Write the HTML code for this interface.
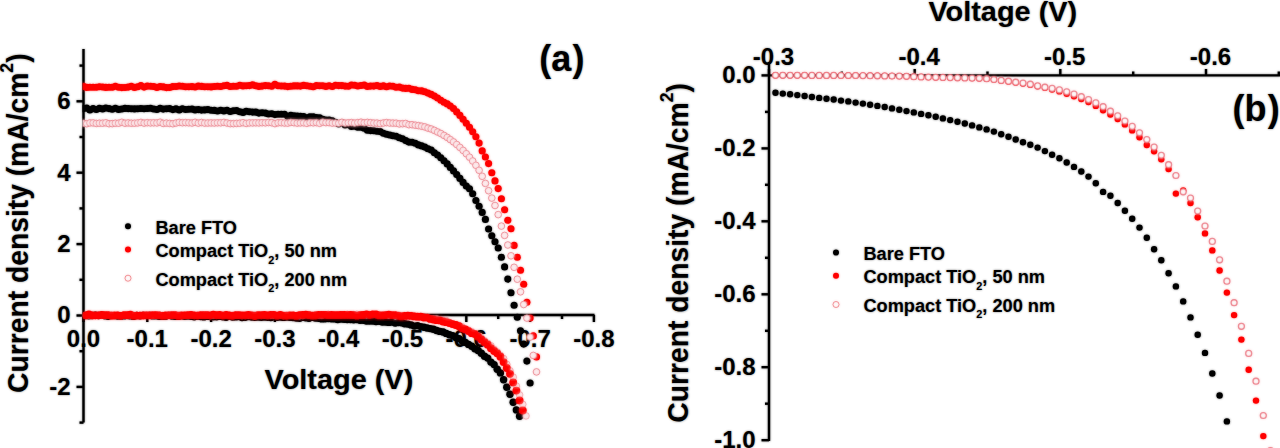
<!DOCTYPE html>
<html><head><meta charset="utf-8"><style>
html,body{margin:0;padding:0;background:#fff;width:1280px;height:448px;overflow:hidden}
svg{display:block}

</style></head><body>
<div id="w"><svg width="1280" height="448" viewBox="0 0 1280 448">
<rect width="1280" height="448" fill="#fff"/>
<defs><filter id="bl" x="0" y="0" width="1280" height="448" filterUnits="userSpaceOnUse"><feGaussianBlur stdDeviation="1"/></filter></defs>
<g id="c">
<line x1="83.5" y1="49" x2="83.5" y2="422.5" stroke="#000" stroke-width="2.4"/>
<line x1="82.5" y1="315" x2="594.5" y2="315" stroke="#000" stroke-width="2.4"/>
<line x1="76.5" y1="101.3" x2="83.5" y2="101.3" stroke="#000" stroke-width="2.4"/>
<line x1="76.5" y1="172.7" x2="83.5" y2="172.7" stroke="#000" stroke-width="2.4"/>
<line x1="76.5" y1="244.1" x2="83.5" y2="244.1" stroke="#000" stroke-width="2.4"/>
<line x1="76.5" y1="315.5" x2="83.5" y2="315.5" stroke="#000" stroke-width="2.4"/>
<line x1="76.5" y1="386.9" x2="83.5" y2="386.9" stroke="#000" stroke-width="2.4"/>
<line x1="79.5" y1="65.6" x2="83.5" y2="65.6" stroke="#000" stroke-width="2.4"/>
<line x1="79.5" y1="137.0" x2="83.5" y2="137.0" stroke="#000" stroke-width="2.4"/>
<line x1="79.5" y1="208.4" x2="83.5" y2="208.4" stroke="#000" stroke-width="2.4"/>
<line x1="79.5" y1="279.8" x2="83.5" y2="279.8" stroke="#000" stroke-width="2.4"/>
<line x1="79.5" y1="351.2" x2="83.5" y2="351.2" stroke="#000" stroke-width="2.4"/>
<line x1="79.5" y1="422.6" x2="83.5" y2="422.6" stroke="#000" stroke-width="2.4"/>
<line x1="83.5" y1="315" x2="83.5" y2="322" stroke="#000" stroke-width="2.4"/>
<line x1="147.3" y1="315" x2="147.3" y2="322" stroke="#000" stroke-width="2.4"/>
<line x1="211.1" y1="315" x2="211.1" y2="322" stroke="#000" stroke-width="2.4"/>
<line x1="274.9" y1="315" x2="274.9" y2="322" stroke="#000" stroke-width="2.4"/>
<line x1="338.7" y1="315" x2="338.7" y2="322" stroke="#000" stroke-width="2.4"/>
<line x1="402.5" y1="315" x2="402.5" y2="322" stroke="#000" stroke-width="2.4"/>
<line x1="466.3" y1="315" x2="466.3" y2="322" stroke="#000" stroke-width="2.4"/>
<line x1="530.1" y1="315" x2="530.1" y2="322" stroke="#000" stroke-width="2.4"/>
<line x1="593.9" y1="315" x2="593.9" y2="322" stroke="#000" stroke-width="2.4"/>
<line x1="115.4" y1="315" x2="115.4" y2="319" stroke="#000" stroke-width="2.4"/>
<line x1="179.2" y1="315" x2="179.2" y2="319" stroke="#000" stroke-width="2.4"/>
<line x1="243.0" y1="315" x2="243.0" y2="319" stroke="#000" stroke-width="2.4"/>
<line x1="306.8" y1="315" x2="306.8" y2="319" stroke="#000" stroke-width="2.4"/>
<line x1="370.6" y1="315" x2="370.6" y2="319" stroke="#000" stroke-width="2.4"/>
<line x1="434.4" y1="315" x2="434.4" y2="319" stroke="#000" stroke-width="2.4"/>
<line x1="498.2" y1="315" x2="498.2" y2="319" stroke="#000" stroke-width="2.4"/>
<line x1="562.0" y1="315" x2="562.0" y2="319" stroke="#000" stroke-width="2.4"/>
<text x="70.5" y="109.1" font-size="24" text-anchor="end" font-family="Liberation Sans, sans-serif" font-weight="bold">6</text>
<text x="70.5" y="180.5" font-size="24" text-anchor="end" font-family="Liberation Sans, sans-serif" font-weight="bold">4</text>
<text x="70.5" y="251.9" font-size="24" text-anchor="end" font-family="Liberation Sans, sans-serif" font-weight="bold">2</text>
<text x="70.5" y="323.3" font-size="24" text-anchor="end" font-family="Liberation Sans, sans-serif" font-weight="bold">0</text>
<text x="70.5" y="394.7" font-size="24" text-anchor="end" font-family="Liberation Sans, sans-serif" font-weight="bold">-2</text>
<text x="83.5" y="346.5" font-size="24" text-anchor="middle" font-family="Liberation Sans, sans-serif" font-weight="bold">0.0</text>
<text x="147.3" y="346.5" font-size="24" text-anchor="middle" font-family="Liberation Sans, sans-serif" font-weight="bold">-0.1</text>
<text x="211.1" y="346.5" font-size="24" text-anchor="middle" font-family="Liberation Sans, sans-serif" font-weight="bold">-0.2</text>
<text x="274.9" y="346.5" font-size="24" text-anchor="middle" font-family="Liberation Sans, sans-serif" font-weight="bold">-0.3</text>
<text x="338.7" y="346.5" font-size="24" text-anchor="middle" font-family="Liberation Sans, sans-serif" font-weight="bold">-0.4</text>
<text x="402.5" y="346.5" font-size="24" text-anchor="middle" font-family="Liberation Sans, sans-serif" font-weight="bold">-0.5</text>
<text x="466.3" y="346.5" font-size="24" text-anchor="middle" font-family="Liberation Sans, sans-serif" font-weight="bold">-0.6</text>
<text x="530.1" y="346.5" font-size="24" text-anchor="middle" font-family="Liberation Sans, sans-serif" font-weight="bold">-0.7</text>
<text x="593.9" y="346.5" font-size="24" text-anchor="middle" font-family="Liberation Sans, sans-serif" font-weight="bold">-0.8</text>
<text transform="translate(338.9,389.1) scale(1.032,1)" font-size="28" text-anchor="middle" font-family="Liberation Sans, sans-serif" font-weight="bold">Voltage (V)</text>
<text transform="translate(28.3,223.2) scale(1.06,1.01) rotate(-90)" font-size="28" text-anchor="middle" font-family="Liberation Sans, sans-serif" font-weight="bold">Current density (mA/cm<tspan font-size="17.5" dy="-14.5">2</tspan><tspan dy="14.5">)</tspan></text>
<text x="539.3" y="70.5" font-size="36" font-family="Liberation Sans, sans-serif" font-weight="bold">(a<tspan dx="1.2">)</tspan></text>
<circle cx="128" cy="226.3" r="3" fill="#000"/>
<circle cx="128" cy="249.5" r="3" fill="#f00"/>
<circle cx="128" cy="278.2" r="3" fill="#fff" stroke="#e8303a" stroke-width="1" stroke-opacity="0.6"/>
<g transform="translate(156,0) scale(1.04,1)">
<text x="-0.6" y="233.8" font-size="17.5" font-family="Liberation Sans, sans-serif" font-weight="bold">Bare FTO</text>
<text x="-0.6" y="257.2" font-size="17.5" font-family="Liberation Sans, sans-serif" font-weight="bold">Compact TiO<tspan font-size="10.5" dy="6.5">2</tspan><tspan dy="-6.5">, 50 nm</tspan></text>
<text x="-0.6" y="285.6" font-size="17.5" font-family="Liberation Sans, sans-serif" font-weight="bold">Compact TiO<tspan font-size="10.5" dy="6.5">2</tspan><tspan dy="-6.5">, 200 nm</tspan></text>
</g>
<line x1="769" y1="62" x2="769" y2="441" stroke="#000" stroke-width="2.4"/>
<line x1="768" y1="75.4" x2="1280" y2="75.4" stroke="#000" stroke-width="2.4"/>
<line x1="761.5" y1="75.4" x2="769" y2="75.4" stroke="#000" stroke-width="2.4"/>
<line x1="761.5" y1="148.4" x2="769" y2="148.4" stroke="#000" stroke-width="2.4"/>
<line x1="761.5" y1="221.3" x2="769" y2="221.3" stroke="#000" stroke-width="2.4"/>
<line x1="761.5" y1="294.3" x2="769" y2="294.3" stroke="#000" stroke-width="2.4"/>
<line x1="761.5" y1="367.2" x2="769" y2="367.2" stroke="#000" stroke-width="2.4"/>
<line x1="761.5" y1="440.2" x2="769" y2="440.2" stroke="#000" stroke-width="2.4"/>
<line x1="765" y1="111.9" x2="769" y2="111.9" stroke="#000" stroke-width="2.4"/>
<line x1="765" y1="184.8" x2="769" y2="184.8" stroke="#000" stroke-width="2.4"/>
<line x1="765" y1="257.8" x2="769" y2="257.8" stroke="#000" stroke-width="2.4"/>
<line x1="765" y1="330.8" x2="769" y2="330.8" stroke="#000" stroke-width="2.4"/>
<line x1="765" y1="403.7" x2="769" y2="403.7" stroke="#000" stroke-width="2.4"/>
<line x1="769.0" y1="69" x2="769.0" y2="75.4" stroke="#000" stroke-width="2.4"/>
<line x1="914.7" y1="69" x2="914.7" y2="75.4" stroke="#000" stroke-width="2.4"/>
<line x1="1060.3" y1="69" x2="1060.3" y2="75.4" stroke="#000" stroke-width="2.4"/>
<line x1="1206.0" y1="69" x2="1206.0" y2="75.4" stroke="#000" stroke-width="2.4"/>
<line x1="841.8" y1="71.5" x2="841.8" y2="75.4" stroke="#000" stroke-width="2.4"/>
<line x1="987.5" y1="71.5" x2="987.5" y2="75.4" stroke="#000" stroke-width="2.4"/>
<line x1="1133.2" y1="71.5" x2="1133.2" y2="75.4" stroke="#000" stroke-width="2.4"/>
<line x1="1278.8" y1="71.5" x2="1278.8" y2="75.4" stroke="#000" stroke-width="2.4"/>
<text x="755.5" y="83.2" font-size="24" text-anchor="end" font-family="Liberation Sans, sans-serif" font-weight="bold">0.0</text>
<text x="755.5" y="156.2" font-size="24" text-anchor="end" font-family="Liberation Sans, sans-serif" font-weight="bold">-0.2</text>
<text x="755.5" y="229.1" font-size="24" text-anchor="end" font-family="Liberation Sans, sans-serif" font-weight="bold">-0.4</text>
<text x="755.5" y="302.1" font-size="24" text-anchor="end" font-family="Liberation Sans, sans-serif" font-weight="bold">-0.6</text>
<text x="755.5" y="375.0" font-size="24" text-anchor="end" font-family="Liberation Sans, sans-serif" font-weight="bold">-0.8</text>
<text x="755.5" y="448.0" font-size="24" text-anchor="end" font-family="Liberation Sans, sans-serif" font-weight="bold">-1.0</text>
<text x="773.5" y="65.4" font-size="24" text-anchor="middle" font-family="Liberation Sans, sans-serif" font-weight="bold">-0.3</text>
<text x="919.2" y="65.4" font-size="24" text-anchor="middle" font-family="Liberation Sans, sans-serif" font-weight="bold">-0.4</text>
<text x="1064.8" y="65.4" font-size="24" text-anchor="middle" font-family="Liberation Sans, sans-serif" font-weight="bold">-0.5</text>
<text x="1210.5" y="65.4" font-size="24" text-anchor="middle" font-family="Liberation Sans, sans-serif" font-weight="bold">-0.6</text>
<text transform="translate(1002.8,21.0) scale(1.032,1)" font-size="28" text-anchor="middle" font-family="Liberation Sans, sans-serif" font-weight="bold">Voltage (V)</text>
<text transform="translate(688.3,252.9) scale(1.06,1.01) rotate(-90)" font-size="28" text-anchor="middle" font-family="Liberation Sans, sans-serif" font-weight="bold">Current density (mA/cm<tspan font-size="17.5" dy="-14.5">2</tspan><tspan dy="14.5">)</tspan></text>
<text x="1232.5" y="120.5" font-size="36" font-family="Liberation Sans, sans-serif" font-weight="bold">(b<tspan dx="1.2">)</tspan></text>
<circle cx="836" cy="252.60000000000002" r="3" fill="#000"/>
<circle cx="836" cy="275.8" r="3" fill="#f00"/>
<circle cx="836" cy="304.5" r="3" fill="#fff" stroke="#e8303a" stroke-width="1" stroke-opacity="0.6"/>
<g transform="translate(864,0) scale(1.04,1)">
<text x="-0.6" y="260.1" font-size="17.5" font-family="Liberation Sans, sans-serif" font-weight="bold">Bare FTO</text>
<text x="-0.6" y="283.5" font-size="17.5" font-family="Liberation Sans, sans-serif" font-weight="bold">Compact TiO<tspan font-size="10.5" dy="6.5">2</tspan><tspan dy="-6.5">, 50 nm</tspan></text>
<text x="-0.6" y="311.90000000000003" font-size="17.5" font-family="Liberation Sans, sans-serif" font-weight="bold">Compact TiO<tspan font-size="10.5" dy="6.5">2</tspan><tspan dy="-6.5">, 200 nm</tspan></text>
</g>
<clipPath id="cl"><rect x="82.6" y="0" width="600" height="448"/></clipPath><g clip-path="url(#cl)">
<g fill="#000"><circle cx="85.7" cy="315.5" r="3.7"/><circle cx="88.9" cy="315.7" r="3.7"/><circle cx="92.1" cy="315.5" r="3.7"/><circle cx="95.3" cy="315.3" r="3.7"/><circle cx="98.5" cy="315.5" r="3.7"/><circle cx="101.7" cy="315.3" r="3.7"/><circle cx="104.9" cy="315.7" r="3.7"/><circle cx="108.1" cy="316.2" r="3.7"/><circle cx="111.3" cy="315.6" r="3.7"/><circle cx="114.4" cy="315.6" r="3.7"/><circle cx="117.6" cy="316.0" r="3.7"/><circle cx="120.8" cy="316.0" r="3.7"/><circle cx="124.0" cy="315.9" r="3.7"/><circle cx="127.2" cy="315.6" r="3.7"/><circle cx="130.4" cy="315.9" r="3.7"/><circle cx="133.6" cy="316.2" r="3.7"/><circle cx="136.8" cy="315.5" r="3.7"/><circle cx="140.0" cy="315.8" r="3.7"/><circle cx="143.2" cy="315.4" r="3.7"/><circle cx="146.3" cy="315.6" r="3.7"/><circle cx="149.5" cy="315.4" r="3.7"/><circle cx="152.7" cy="316.0" r="3.7"/><circle cx="155.9" cy="315.7" r="3.7"/><circle cx="159.1" cy="316.3" r="3.7"/><circle cx="162.3" cy="316.2" r="3.7"/><circle cx="165.5" cy="316.2" r="3.7"/><circle cx="168.7" cy="315.4" r="3.7"/><circle cx="171.9" cy="316.1" r="3.7"/><circle cx="175.1" cy="316.3" r="3.7"/><circle cx="178.2" cy="316.4" r="3.7"/><circle cx="181.4" cy="315.8" r="3.7"/><circle cx="184.6" cy="316.2" r="3.7"/><circle cx="187.8" cy="316.1" r="3.7"/><circle cx="191.0" cy="316.2" r="3.7"/><circle cx="194.2" cy="316.8" r="3.7"/><circle cx="197.4" cy="316.2" r="3.7"/><circle cx="200.6" cy="316.5" r="3.7"/><circle cx="203.8" cy="316.9" r="3.7"/><circle cx="207.0" cy="316.4" r="3.7"/><circle cx="210.1" cy="316.6" r="3.7"/><circle cx="213.3" cy="316.7" r="3.7"/><circle cx="216.5" cy="316.7" r="3.7"/><circle cx="219.7" cy="316.3" r="3.7"/><circle cx="222.9" cy="316.8" r="3.7"/><circle cx="226.1" cy="317.2" r="3.7"/><circle cx="229.3" cy="316.2" r="3.7"/><circle cx="232.5" cy="317.1" r="3.7"/><circle cx="235.7" cy="316.9" r="3.7"/><circle cx="238.9" cy="316.6" r="3.7"/><circle cx="242.0" cy="317.6" r="3.7"/><circle cx="245.2" cy="317.2" r="3.7"/><circle cx="248.4" cy="316.5" r="3.7"/><circle cx="251.6" cy="317.0" r="3.7"/><circle cx="254.8" cy="317.2" r="3.7"/><circle cx="258.0" cy="317.0" r="3.7"/><circle cx="261.2" cy="317.3" r="3.7"/><circle cx="264.4" cy="317.1" r="3.7"/><circle cx="267.6" cy="317.3" r="3.7"/><circle cx="270.8" cy="317.6" r="3.7"/><circle cx="273.9" cy="316.9" r="3.7"/><circle cx="277.1" cy="317.3" r="3.7"/><circle cx="280.3" cy="317.1" r="3.7"/><circle cx="283.5" cy="317.4" r="3.7"/><circle cx="286.7" cy="317.0" r="3.7"/><circle cx="289.9" cy="317.3" r="3.7"/><circle cx="293.1" cy="317.5" r="3.7"/><circle cx="296.3" cy="318.0" r="3.7"/><circle cx="299.5" cy="318.2" r="3.7"/><circle cx="302.7" cy="317.4" r="3.7"/><circle cx="305.8" cy="317.7" r="3.7"/><circle cx="309.0" cy="318.3" r="3.7"/><circle cx="312.2" cy="317.4" r="3.7"/><circle cx="315.4" cy="318.1" r="3.7"/><circle cx="318.6" cy="318.3" r="3.7"/><circle cx="321.8" cy="318.9" r="3.7"/><circle cx="325.0" cy="318.8" r="3.7"/><circle cx="328.2" cy="318.6" r="3.7"/><circle cx="331.4" cy="318.7" r="3.7"/><circle cx="334.6" cy="318.9" r="3.7"/><circle cx="337.7" cy="319.6" r="3.7"/><circle cx="340.9" cy="319.1" r="3.7"/><circle cx="344.1" cy="319.3" r="3.7"/><circle cx="347.3" cy="319.6" r="3.7"/><circle cx="350.5" cy="319.6" r="3.7"/><circle cx="353.7" cy="319.8" r="3.7"/><circle cx="356.9" cy="319.6" r="3.7"/><circle cx="360.1" cy="320.2" r="3.7"/><circle cx="363.3" cy="320.2" r="3.7"/><circle cx="366.5" cy="321.0" r="3.7"/><circle cx="369.6" cy="321.0" r="3.7"/><circle cx="372.8" cy="321.0" r="3.7"/><circle cx="376.0" cy="321.5" r="3.7"/><circle cx="379.2" cy="321.3" r="3.7"/><circle cx="382.4" cy="322.1" r="3.7"/><circle cx="385.6" cy="322.0" r="3.7"/><circle cx="388.8" cy="322.4" r="3.7"/><circle cx="392.0" cy="322.1" r="3.7"/><circle cx="395.2" cy="323.0" r="3.7"/><circle cx="398.4" cy="322.6" r="3.7"/><circle cx="401.5" cy="322.8" r="3.7"/><circle cx="404.7" cy="323.8" r="3.7"/><circle cx="407.9" cy="324.1" r="3.7"/><circle cx="411.1" cy="324.9" r="3.7"/><circle cx="414.3" cy="326.1" r="3.7"/><circle cx="417.5" cy="325.6" r="3.7"/><circle cx="420.7" cy="326.6" r="3.7"/><circle cx="423.9" cy="327.3" r="3.7"/><circle cx="427.1" cy="328.0" r="3.7"/><circle cx="430.3" cy="328.6" r="3.7"/><circle cx="433.4" cy="329.3" r="3.7"/><circle cx="436.6" cy="330.5" r="3.7"/><circle cx="439.8" cy="331.4" r="3.7"/><circle cx="443.0" cy="332.0" r="3.7"/><circle cx="446.2" cy="333.4" r="3.7"/><circle cx="449.4" cy="334.7" r="3.7"/><circle cx="452.6" cy="335.6" r="3.7"/><circle cx="455.8" cy="337.5" r="3.7"/><circle cx="459.0" cy="338.6" r="3.7"/><circle cx="462.2" cy="340.9" r="3.7"/><circle cx="465.3" cy="342.4" r="3.7"/><circle cx="468.5" cy="344.4" r="3.7"/><circle cx="471.7" cy="346.2" r="3.7"/><circle cx="474.9" cy="348.8" r="3.7"/><circle cx="478.1" cy="350.5" r="3.7"/><circle cx="481.3" cy="353.2" r="3.7"/><circle cx="484.5" cy="356.2" r="3.7"/><circle cx="487.7" cy="358.1" r="3.7"/><circle cx="490.9" cy="362.1" r="3.7"/><circle cx="494.1" cy="364.6" r="3.7"/><circle cx="497.2" cy="369.2" r="3.7"/><circle cx="500.4" cy="372.9" r="3.7"/><circle cx="503.6" cy="379.8" r="3.7"/><circle cx="506.8" cy="387.3" r="3.7"/><circle cx="510.0" cy="394.2" r="3.7"/><circle cx="513.2" cy="402.2" r="3.7"/><circle cx="516.4" cy="409.9" r="3.7"/><circle cx="519.6" cy="416.3" r="3.7"/></g>
<g fill="#fde9eb" stroke="#e8707c" stroke-width="1.0" stroke-opacity="0.5"><circle cx="85.7" cy="315.2" r="3.3"/><circle cx="88.9" cy="315.2" r="3.3"/><circle cx="92.1" cy="315.0" r="3.3"/><circle cx="95.3" cy="315.7" r="3.3"/><circle cx="98.5" cy="315.1" r="3.3"/><circle cx="101.7" cy="315.3" r="3.3"/><circle cx="104.9" cy="315.0" r="3.3"/><circle cx="108.1" cy="315.1" r="3.3"/><circle cx="111.3" cy="314.9" r="3.3"/><circle cx="114.4" cy="315.7" r="3.3"/><circle cx="117.6" cy="315.2" r="3.3"/><circle cx="120.8" cy="315.6" r="3.3"/><circle cx="124.0" cy="315.3" r="3.3"/><circle cx="127.2" cy="315.1" r="3.3"/><circle cx="130.4" cy="315.2" r="3.3"/><circle cx="133.6" cy="315.1" r="3.3"/><circle cx="136.8" cy="315.3" r="3.3"/><circle cx="140.0" cy="315.2" r="3.3"/><circle cx="143.2" cy="315.2" r="3.3"/><circle cx="146.3" cy="314.8" r="3.3"/><circle cx="149.5" cy="315.0" r="3.3"/><circle cx="152.7" cy="315.9" r="3.3"/><circle cx="155.9" cy="315.1" r="3.3"/><circle cx="159.1" cy="314.9" r="3.3"/><circle cx="162.3" cy="315.4" r="3.3"/><circle cx="165.5" cy="315.8" r="3.3"/><circle cx="168.7" cy="314.8" r="3.3"/><circle cx="171.9" cy="315.2" r="3.3"/><circle cx="175.1" cy="315.1" r="3.3"/><circle cx="178.2" cy="314.7" r="3.3"/><circle cx="181.4" cy="315.6" r="3.3"/><circle cx="184.6" cy="315.3" r="3.3"/><circle cx="187.8" cy="315.3" r="3.3"/><circle cx="191.0" cy="315.0" r="3.3"/><circle cx="194.2" cy="315.5" r="3.3"/><circle cx="197.4" cy="315.1" r="3.3"/><circle cx="200.6" cy="315.2" r="3.3"/><circle cx="203.8" cy="314.9" r="3.3"/><circle cx="207.0" cy="314.9" r="3.3"/><circle cx="210.1" cy="315.8" r="3.3"/><circle cx="213.3" cy="315.1" r="3.3"/><circle cx="216.5" cy="315.4" r="3.3"/><circle cx="219.7" cy="315.3" r="3.3"/><circle cx="222.9" cy="315.1" r="3.3"/><circle cx="226.1" cy="315.1" r="3.3"/><circle cx="229.3" cy="315.5" r="3.3"/><circle cx="232.5" cy="315.2" r="3.3"/><circle cx="235.7" cy="315.2" r="3.3"/><circle cx="238.9" cy="315.3" r="3.3"/><circle cx="242.0" cy="315.7" r="3.3"/><circle cx="245.2" cy="315.5" r="3.3"/><circle cx="248.4" cy="315.4" r="3.3"/><circle cx="251.6" cy="315.1" r="3.3"/><circle cx="254.8" cy="314.8" r="3.3"/><circle cx="258.0" cy="315.6" r="3.3"/><circle cx="261.2" cy="315.6" r="3.3"/><circle cx="264.4" cy="315.2" r="3.3"/><circle cx="267.6" cy="315.4" r="3.3"/><circle cx="270.8" cy="315.5" r="3.3"/><circle cx="273.9" cy="315.5" r="3.3"/><circle cx="277.1" cy="315.6" r="3.3"/><circle cx="280.3" cy="315.1" r="3.3"/><circle cx="283.5" cy="315.8" r="3.3"/><circle cx="286.7" cy="314.8" r="3.3"/><circle cx="289.9" cy="315.5" r="3.3"/><circle cx="293.1" cy="315.4" r="3.3"/><circle cx="296.3" cy="315.5" r="3.3"/><circle cx="299.5" cy="315.9" r="3.3"/><circle cx="302.7" cy="315.7" r="3.3"/><circle cx="305.8" cy="314.8" r="3.3"/><circle cx="309.0" cy="314.6" r="3.3"/><circle cx="312.2" cy="315.5" r="3.3"/><circle cx="315.4" cy="314.8" r="3.3"/><circle cx="318.6" cy="315.2" r="3.3"/><circle cx="321.8" cy="315.4" r="3.3"/><circle cx="325.0" cy="314.6" r="3.3"/><circle cx="328.2" cy="314.4" r="3.3"/><circle cx="331.4" cy="315.2" r="3.3"/><circle cx="334.6" cy="315.1" r="3.3"/><circle cx="337.7" cy="315.0" r="3.3"/><circle cx="340.9" cy="315.1" r="3.3"/><circle cx="344.1" cy="314.8" r="3.3"/><circle cx="347.3" cy="314.5" r="3.3"/><circle cx="350.5" cy="315.0" r="3.3"/><circle cx="353.7" cy="314.7" r="3.3"/><circle cx="356.9" cy="314.4" r="3.3"/><circle cx="360.1" cy="315.2" r="3.3"/><circle cx="363.3" cy="315.0" r="3.3"/><circle cx="366.5" cy="315.1" r="3.3"/><circle cx="369.6" cy="314.7" r="3.3"/><circle cx="372.8" cy="314.8" r="3.3"/><circle cx="376.0" cy="314.7" r="3.3"/><circle cx="379.2" cy="314.7" r="3.3"/><circle cx="382.4" cy="315.2" r="3.3"/><circle cx="385.6" cy="314.9" r="3.3"/><circle cx="388.8" cy="315.3" r="3.3"/><circle cx="392.0" cy="315.4" r="3.3"/><circle cx="395.2" cy="316.1" r="3.3"/><circle cx="398.4" cy="315.0" r="3.3"/><circle cx="401.5" cy="315.9" r="3.3"/><circle cx="404.7" cy="315.7" r="3.3"/><circle cx="407.9" cy="315.9" r="3.3"/><circle cx="411.1" cy="315.6" r="3.3"/><circle cx="414.3" cy="316.2" r="3.3"/><circle cx="417.5" cy="316.8" r="3.3"/><circle cx="420.7" cy="316.9" r="3.3"/><circle cx="423.9" cy="317.3" r="3.3"/><circle cx="427.1" cy="317.6" r="3.3"/><circle cx="430.3" cy="318.6" r="3.3"/><circle cx="433.4" cy="318.8" r="3.3"/><circle cx="436.6" cy="318.7" r="3.3"/><circle cx="439.8" cy="319.9" r="3.3"/><circle cx="443.0" cy="320.2" r="3.3"/><circle cx="446.2" cy="320.6" r="3.3"/><circle cx="449.4" cy="322.5" r="3.3"/><circle cx="452.6" cy="324.1" r="3.3"/><circle cx="455.8" cy="324.8" r="3.3"/><circle cx="459.0" cy="325.5" r="3.3"/><circle cx="462.2" cy="326.9" r="3.3"/><circle cx="465.3" cy="329.0" r="3.3"/><circle cx="468.5" cy="330.2" r="3.3"/><circle cx="471.7" cy="331.8" r="3.3"/><circle cx="474.9" cy="333.6" r="3.3"/><circle cx="478.1" cy="335.7" r="3.3"/><circle cx="481.3" cy="338.3" r="3.3"/><circle cx="484.5" cy="340.8" r="3.3"/><circle cx="487.7" cy="343.3" r="3.3"/><circle cx="490.9" cy="345.8" r="3.3"/><circle cx="494.1" cy="349.4" r="3.3"/><circle cx="497.2" cy="352.0" r="3.3"/><circle cx="500.4" cy="355.4" r="3.3"/><circle cx="503.6" cy="358.5" r="3.3"/><circle cx="506.8" cy="364.3" r="3.3"/><circle cx="510.0" cy="370.7" r="3.3"/><circle cx="513.2" cy="377.1" r="3.3"/><circle cx="516.4" cy="386.1" r="3.3"/><circle cx="519.6" cy="394.9" r="3.3"/><circle cx="522.8" cy="404.3" r="3.3"/><circle cx="526.0" cy="415.9" r="3.3"/></g>
<g fill="#f00"><circle cx="85.7" cy="315.4" r="3.9"/><circle cx="88.9" cy="314.4" r="3.9"/><circle cx="92.1" cy="315.4" r="3.9"/><circle cx="95.3" cy="315.3" r="3.9"/><circle cx="98.5" cy="315.3" r="3.9"/><circle cx="101.7" cy="314.9" r="3.9"/><circle cx="104.9" cy="315.2" r="3.9"/><circle cx="108.1" cy="315.2" r="3.9"/><circle cx="111.3" cy="315.7" r="3.9"/><circle cx="114.4" cy="315.4" r="3.9"/><circle cx="117.6" cy="315.3" r="3.9"/><circle cx="120.8" cy="315.8" r="3.9"/><circle cx="124.0" cy="315.1" r="3.9"/><circle cx="127.2" cy="315.2" r="3.9"/><circle cx="130.4" cy="314.7" r="3.9"/><circle cx="133.6" cy="315.8" r="3.9"/><circle cx="136.8" cy="315.6" r="3.9"/><circle cx="140.0" cy="315.6" r="3.9"/><circle cx="143.2" cy="315.5" r="3.9"/><circle cx="146.3" cy="315.3" r="3.9"/><circle cx="149.5" cy="315.4" r="3.9"/><circle cx="152.7" cy="315.2" r="3.9"/><circle cx="155.9" cy="315.2" r="3.9"/><circle cx="159.1" cy="315.3" r="3.9"/><circle cx="162.3" cy="315.8" r="3.9"/><circle cx="165.5" cy="315.5" r="3.9"/><circle cx="168.7" cy="315.3" r="3.9"/><circle cx="171.9" cy="315.1" r="3.9"/><circle cx="175.1" cy="315.1" r="3.9"/><circle cx="178.2" cy="315.9" r="3.9"/><circle cx="181.4" cy="315.5" r="3.9"/><circle cx="184.6" cy="315.3" r="3.9"/><circle cx="187.8" cy="315.2" r="3.9"/><circle cx="191.0" cy="314.9" r="3.9"/><circle cx="194.2" cy="315.3" r="3.9"/><circle cx="197.4" cy="315.6" r="3.9"/><circle cx="200.6" cy="315.2" r="3.9"/><circle cx="203.8" cy="315.2" r="3.9"/><circle cx="207.0" cy="315.2" r="3.9"/><circle cx="210.1" cy="315.3" r="3.9"/><circle cx="213.3" cy="314.7" r="3.9"/><circle cx="216.5" cy="315.2" r="3.9"/><circle cx="219.7" cy="315.0" r="3.9"/><circle cx="222.9" cy="315.6" r="3.9"/><circle cx="226.1" cy="315.0" r="3.9"/><circle cx="229.3" cy="315.5" r="3.9"/><circle cx="232.5" cy="315.8" r="3.9"/><circle cx="235.7" cy="315.2" r="3.9"/><circle cx="238.9" cy="315.1" r="3.9"/><circle cx="242.0" cy="315.3" r="3.9"/><circle cx="245.2" cy="315.3" r="3.9"/><circle cx="248.4" cy="314.9" r="3.9"/><circle cx="251.6" cy="315.4" r="3.9"/><circle cx="254.8" cy="316.0" r="3.9"/><circle cx="258.0" cy="315.2" r="3.9"/><circle cx="261.2" cy="315.2" r="3.9"/><circle cx="264.4" cy="314.9" r="3.9"/><circle cx="267.6" cy="315.4" r="3.9"/><circle cx="270.8" cy="314.8" r="3.9"/><circle cx="273.9" cy="314.9" r="3.9"/><circle cx="277.1" cy="315.7" r="3.9"/><circle cx="280.3" cy="314.9" r="3.9"/><circle cx="283.5" cy="315.6" r="3.9"/><circle cx="286.7" cy="315.8" r="3.9"/><circle cx="289.9" cy="315.3" r="3.9"/><circle cx="293.1" cy="315.4" r="3.9"/><circle cx="296.3" cy="315.9" r="3.9"/><circle cx="299.5" cy="315.1" r="3.9"/><circle cx="302.7" cy="315.0" r="3.9"/><circle cx="305.8" cy="314.7" r="3.9"/><circle cx="309.0" cy="315.2" r="3.9"/><circle cx="312.2" cy="315.7" r="3.9"/><circle cx="315.4" cy="315.5" r="3.9"/><circle cx="318.6" cy="314.8" r="3.9"/><circle cx="321.8" cy="314.8" r="3.9"/><circle cx="325.0" cy="314.9" r="3.9"/><circle cx="328.2" cy="315.2" r="3.9"/><circle cx="331.4" cy="315.0" r="3.9"/><circle cx="334.6" cy="315.2" r="3.9"/><circle cx="337.7" cy="315.2" r="3.9"/><circle cx="340.9" cy="315.0" r="3.9"/><circle cx="344.1" cy="315.0" r="3.9"/><circle cx="347.3" cy="315.1" r="3.9"/><circle cx="350.5" cy="315.0" r="3.9"/><circle cx="353.7" cy="315.2" r="3.9"/><circle cx="356.9" cy="315.7" r="3.9"/><circle cx="360.1" cy="315.2" r="3.9"/><circle cx="363.3" cy="315.0" r="3.9"/><circle cx="366.5" cy="314.4" r="3.9"/><circle cx="369.6" cy="315.1" r="3.9"/><circle cx="372.8" cy="314.3" r="3.9"/><circle cx="376.0" cy="314.5" r="3.9"/><circle cx="379.2" cy="315.4" r="3.9"/><circle cx="382.4" cy="315.4" r="3.9"/><circle cx="385.6" cy="315.1" r="3.9"/><circle cx="388.8" cy="314.7" r="3.9"/><circle cx="392.0" cy="315.2" r="3.9"/><circle cx="395.2" cy="315.2" r="3.9"/><circle cx="398.4" cy="315.8" r="3.9"/><circle cx="401.5" cy="316.4" r="3.9"/><circle cx="404.7" cy="315.9" r="3.9"/><circle cx="407.9" cy="315.7" r="3.9"/><circle cx="411.1" cy="315.8" r="3.9"/><circle cx="414.3" cy="316.4" r="3.9"/><circle cx="417.5" cy="316.7" r="3.9"/><circle cx="420.7" cy="316.7" r="3.9"/><circle cx="423.9" cy="317.5" r="3.9"/><circle cx="427.1" cy="317.6" r="3.9"/><circle cx="430.3" cy="318.9" r="3.9"/><circle cx="433.4" cy="319.5" r="3.9"/><circle cx="436.6" cy="320.2" r="3.9"/><circle cx="439.8" cy="320.4" r="3.9"/><circle cx="443.0" cy="321.5" r="3.9"/><circle cx="446.2" cy="322.2" r="3.9"/><circle cx="449.4" cy="323.1" r="3.9"/><circle cx="452.6" cy="324.1" r="3.9"/><circle cx="455.8" cy="325.0" r="3.9"/><circle cx="459.0" cy="326.2" r="3.9"/><circle cx="462.2" cy="328.3" r="3.9"/><circle cx="465.3" cy="329.4" r="3.9"/><circle cx="468.5" cy="331.1" r="3.9"/><circle cx="471.7" cy="333.2" r="3.9"/><circle cx="474.9" cy="334.1" r="3.9"/><circle cx="478.1" cy="336.7" r="3.9"/><circle cx="481.3" cy="339.5" r="3.9"/><circle cx="484.5" cy="342.2" r="3.9"/><circle cx="487.7" cy="344.7" r="3.9"/><circle cx="490.9" cy="348.2" r="3.9"/><circle cx="494.1" cy="351.0" r="3.9"/><circle cx="497.2" cy="353.3" r="3.9"/><circle cx="500.4" cy="356.7" r="3.9"/><circle cx="503.6" cy="362.1" r="3.9"/><circle cx="506.8" cy="368.0" r="3.9"/><circle cx="510.0" cy="373.8" r="3.9"/><circle cx="513.2" cy="382.4" r="3.9"/><circle cx="516.4" cy="390.6" r="3.9"/><circle cx="519.6" cy="400.4" r="3.9"/><circle cx="522.8" cy="410.5" r="3.9"/></g>
<g fill="#000"><circle cx="83.5" cy="108.6" r="3.55"/><circle cx="86.7" cy="108.1" r="3.55"/><circle cx="89.9" cy="110.0" r="3.55"/><circle cx="93.1" cy="108.6" r="3.55"/><circle cx="96.3" cy="109.5" r="3.55"/><circle cx="99.4" cy="108.4" r="3.55"/><circle cx="102.6" cy="108.9" r="3.55"/><circle cx="105.8" cy="108.0" r="3.55"/><circle cx="109.0" cy="108.6" r="3.55"/><circle cx="112.2" cy="109.3" r="3.55"/><circle cx="115.4" cy="108.2" r="3.55"/><circle cx="118.6" cy="109.4" r="3.55"/><circle cx="121.8" cy="109.0" r="3.55"/><circle cx="125.0" cy="108.4" r="3.55"/><circle cx="128.2" cy="108.6" r="3.55"/><circle cx="131.3" cy="108.7" r="3.55"/><circle cx="134.5" cy="108.9" r="3.55"/><circle cx="137.7" cy="108.7" r="3.55"/><circle cx="140.9" cy="108.5" r="3.55"/><circle cx="144.1" cy="108.8" r="3.55"/><circle cx="147.3" cy="108.5" r="3.55"/><circle cx="150.5" cy="108.3" r="3.55"/><circle cx="153.7" cy="109.0" r="3.55"/><circle cx="156.9" cy="109.5" r="3.55"/><circle cx="160.1" cy="108.3" r="3.55"/><circle cx="163.2" cy="109.1" r="3.55"/><circle cx="166.4" cy="108.8" r="3.55"/><circle cx="169.6" cy="108.6" r="3.55"/><circle cx="172.8" cy="109.6" r="3.55"/><circle cx="176.0" cy="108.9" r="3.55"/><circle cx="179.2" cy="109.9" r="3.55"/><circle cx="182.4" cy="108.8" r="3.55"/><circle cx="185.6" cy="109.5" r="3.55"/><circle cx="188.8" cy="109.2" r="3.55"/><circle cx="192.0" cy="109.1" r="3.55"/><circle cx="195.1" cy="109.9" r="3.55"/><circle cx="198.3" cy="109.6" r="3.55"/><circle cx="201.5" cy="110.1" r="3.55"/><circle cx="204.7" cy="109.9" r="3.55"/><circle cx="207.9" cy="109.6" r="3.55"/><circle cx="211.1" cy="110.2" r="3.55"/><circle cx="214.3" cy="110.4" r="3.55"/><circle cx="217.5" cy="111.0" r="3.55"/><circle cx="220.7" cy="110.3" r="3.55"/><circle cx="223.9" cy="110.9" r="3.55"/><circle cx="227.0" cy="110.2" r="3.55"/><circle cx="230.2" cy="111.5" r="3.55"/><circle cx="233.4" cy="110.8" r="3.55"/><circle cx="236.6" cy="110.6" r="3.55"/><circle cx="239.8" cy="111.7" r="3.55"/><circle cx="243.0" cy="112.4" r="3.55"/><circle cx="246.2" cy="111.3" r="3.55"/><circle cx="249.4" cy="111.7" r="3.55"/><circle cx="252.6" cy="112.1" r="3.55"/><circle cx="255.8" cy="112.1" r="3.55"/><circle cx="258.9" cy="113.1" r="3.55"/><circle cx="262.1" cy="112.8" r="3.55"/><circle cx="265.3" cy="113.1" r="3.55"/><circle cx="268.5" cy="114.0" r="3.55"/><circle cx="271.7" cy="113.7" r="3.55"/><circle cx="274.9" cy="114.6" r="3.55"/><circle cx="278.1" cy="114.2" r="3.55"/><circle cx="281.3" cy="114.3" r="3.55"/><circle cx="284.5" cy="114.2" r="3.55"/><circle cx="287.7" cy="116.3" r="3.55"/><circle cx="290.8" cy="115.4" r="3.55"/><circle cx="294.0" cy="115.9" r="3.55"/><circle cx="297.2" cy="116.0" r="3.55"/><circle cx="300.4" cy="116.4" r="3.55"/><circle cx="303.6" cy="116.6" r="3.55"/><circle cx="306.8" cy="117.9" r="3.55"/><circle cx="310.0" cy="116.7" r="3.55"/><circle cx="313.2" cy="116.8" r="3.55"/><circle cx="316.4" cy="117.5" r="3.55"/><circle cx="319.6" cy="117.8" r="3.55"/><circle cx="322.7" cy="119.4" r="3.55"/><circle cx="325.9" cy="120.1" r="3.55"/><circle cx="329.1" cy="120.1" r="3.55"/><circle cx="332.3" cy="120.8" r="3.55"/><circle cx="335.5" cy="122.2" r="3.55"/><circle cx="338.7" cy="123.9" r="3.55"/><circle cx="341.9" cy="122.5" r="3.55"/><circle cx="345.1" cy="124.9" r="3.55"/><circle cx="348.3" cy="124.8" r="3.55"/><circle cx="351.5" cy="126.5" r="3.55"/><circle cx="354.6" cy="126.1" r="3.55"/><circle cx="357.8" cy="127.2" r="3.55"/><circle cx="361.0" cy="127.3" r="3.55"/><circle cx="364.2" cy="128.3" r="3.55"/><circle cx="367.4" cy="130.2" r="3.55"/><circle cx="370.6" cy="130.6" r="3.55"/><circle cx="373.8" cy="130.8" r="3.55"/><circle cx="377.0" cy="131.3" r="3.55"/><circle cx="380.2" cy="131.6" r="3.55"/><circle cx="383.4" cy="133.2" r="3.55"/><circle cx="386.5" cy="134.2" r="3.55"/><circle cx="389.7" cy="135.0" r="3.55"/><circle cx="392.9" cy="135.8" r="3.55"/><circle cx="396.1" cy="136.3" r="3.55"/><circle cx="399.3" cy="137.7" r="3.55"/><circle cx="402.5" cy="138.8" r="3.55"/><circle cx="405.7" cy="140.6" r="3.55"/><circle cx="408.9" cy="142.1" r="3.55"/><circle cx="412.1" cy="142.3" r="3.55"/><circle cx="415.3" cy="143.3" r="3.55"/><circle cx="418.4" cy="144.9" r="3.55"/><circle cx="421.6" cy="145.9" r="3.55"/><circle cx="424.8" cy="147.1" r="3.55"/><circle cx="428.0" cy="148.7" r="3.55"/><circle cx="431.2" cy="150.1" r="3.55"/><circle cx="434.4" cy="152.7" r="3.55"/><circle cx="437.6" cy="155.0" r="3.55"/><circle cx="440.8" cy="157.8" r="3.55"/><circle cx="444.0" cy="160.7" r="3.55"/><circle cx="447.2" cy="163.9" r="3.55"/><circle cx="450.3" cy="167.4" r="3.55"/><circle cx="453.5" cy="170.9" r="3.55"/><circle cx="456.7" cy="174.6" r="3.55"/><circle cx="459.9" cy="178.4" r="3.55"/><circle cx="463.1" cy="182.4" r="3.55"/><circle cx="466.3" cy="186.1" r="3.55"/><circle cx="469.5" cy="188.7" r="3.55"/><circle cx="472.7" cy="193.8" r="3.55"/><circle cx="475.9" cy="200.5" r="3.55"/><circle cx="479.1" cy="206.2" r="3.55"/><circle cx="482.2" cy="212.4" r="3.55"/><circle cx="485.4" cy="219.4" r="3.55"/><circle cx="488.6" cy="229.0" r="3.55"/><circle cx="491.8" cy="235.8" r="3.55"/><circle cx="495.0" cy="241.7" r="3.55"/><circle cx="498.2" cy="248.0" r="3.55"/><circle cx="501.4" cy="257.3" r="3.55"/><circle cx="504.6" cy="266.9" r="3.55"/><circle cx="507.8" cy="279.1" r="3.55"/><circle cx="511.0" cy="292.8" r="3.55"/><circle cx="514.1" cy="305.2" r="3.55"/><circle cx="517.3" cy="317.3" r="3.55"/><circle cx="520.5" cy="330.7" r="3.55"/><circle cx="523.7" cy="344.1" r="3.55"/><circle cx="526.9" cy="361.1" r="3.55"/><circle cx="530.1" cy="383.0" r="3.55"/></g>
<g fill="#f00"><circle cx="83.5" cy="86.4" r="3.55"/><circle cx="86.7" cy="87.4" r="3.55"/><circle cx="89.9" cy="87.3" r="3.55"/><circle cx="93.1" cy="87.3" r="3.55"/><circle cx="96.3" cy="87.3" r="3.55"/><circle cx="99.4" cy="86.8" r="3.55"/><circle cx="102.6" cy="87.0" r="3.55"/><circle cx="105.8" cy="87.4" r="3.55"/><circle cx="109.0" cy="87.3" r="3.55"/><circle cx="112.2" cy="87.2" r="3.55"/><circle cx="115.4" cy="86.3" r="3.55"/><circle cx="118.6" cy="87.3" r="3.55"/><circle cx="121.8" cy="87.6" r="3.55"/><circle cx="125.0" cy="87.5" r="3.55"/><circle cx="128.2" cy="87.1" r="3.55"/><circle cx="131.3" cy="86.2" r="3.55"/><circle cx="134.5" cy="87.4" r="3.55"/><circle cx="137.7" cy="86.8" r="3.55"/><circle cx="140.9" cy="85.6" r="3.55"/><circle cx="144.1" cy="87.1" r="3.55"/><circle cx="147.3" cy="86.1" r="3.55"/><circle cx="150.5" cy="86.2" r="3.55"/><circle cx="153.7" cy="86.5" r="3.55"/><circle cx="156.9" cy="87.4" r="3.55"/><circle cx="160.1" cy="86.6" r="3.55"/><circle cx="163.2" cy="86.9" r="3.55"/><circle cx="166.4" cy="87.6" r="3.55"/><circle cx="169.6" cy="87.5" r="3.55"/><circle cx="172.8" cy="86.6" r="3.55"/><circle cx="176.0" cy="86.5" r="3.55"/><circle cx="179.2" cy="86.0" r="3.55"/><circle cx="182.4" cy="86.2" r="3.55"/><circle cx="185.6" cy="86.8" r="3.55"/><circle cx="188.8" cy="86.7" r="3.55"/><circle cx="192.0" cy="86.6" r="3.55"/><circle cx="195.1" cy="87.0" r="3.55"/><circle cx="198.3" cy="86.1" r="3.55"/><circle cx="201.5" cy="86.4" r="3.55"/><circle cx="204.7" cy="86.8" r="3.55"/><circle cx="207.9" cy="86.7" r="3.55"/><circle cx="211.1" cy="86.9" r="3.55"/><circle cx="214.3" cy="86.5" r="3.55"/><circle cx="217.5" cy="86.2" r="3.55"/><circle cx="220.7" cy="86.5" r="3.55"/><circle cx="223.9" cy="85.8" r="3.55"/><circle cx="227.0" cy="85.4" r="3.55"/><circle cx="230.2" cy="86.5" r="3.55"/><circle cx="233.4" cy="86.2" r="3.55"/><circle cx="236.6" cy="86.3" r="3.55"/><circle cx="239.8" cy="85.3" r="3.55"/><circle cx="243.0" cy="85.9" r="3.55"/><circle cx="246.2" cy="85.8" r="3.55"/><circle cx="249.4" cy="85.6" r="3.55"/><circle cx="252.6" cy="84.9" r="3.55"/><circle cx="255.8" cy="85.8" r="3.55"/><circle cx="258.9" cy="86.4" r="3.55"/><circle cx="262.1" cy="86.1" r="3.55"/><circle cx="265.3" cy="85.6" r="3.55"/><circle cx="268.5" cy="85.8" r="3.55"/><circle cx="271.7" cy="86.2" r="3.55"/><circle cx="274.9" cy="84.4" r="3.55"/><circle cx="278.1" cy="85.7" r="3.55"/><circle cx="281.3" cy="86.0" r="3.55"/><circle cx="284.5" cy="86.1" r="3.55"/><circle cx="287.7" cy="86.6" r="3.55"/><circle cx="290.8" cy="86.3" r="3.55"/><circle cx="294.0" cy="85.9" r="3.55"/><circle cx="297.2" cy="85.9" r="3.55"/><circle cx="300.4" cy="86.1" r="3.55"/><circle cx="303.6" cy="85.4" r="3.55"/><circle cx="306.8" cy="85.7" r="3.55"/><circle cx="310.0" cy="86.2" r="3.55"/><circle cx="313.2" cy="86.7" r="3.55"/><circle cx="316.4" cy="85.6" r="3.55"/><circle cx="319.6" cy="85.7" r="3.55"/><circle cx="322.7" cy="85.8" r="3.55"/><circle cx="325.9" cy="86.4" r="3.55"/><circle cx="329.1" cy="85.7" r="3.55"/><circle cx="332.3" cy="86.5" r="3.55"/><circle cx="335.5" cy="85.2" r="3.55"/><circle cx="338.7" cy="85.6" r="3.55"/><circle cx="341.9" cy="85.6" r="3.55"/><circle cx="345.1" cy="86.1" r="3.55"/><circle cx="348.3" cy="86.3" r="3.55"/><circle cx="351.5" cy="85.0" r="3.55"/><circle cx="354.6" cy="85.3" r="3.55"/><circle cx="357.8" cy="86.0" r="3.55"/><circle cx="361.0" cy="85.5" r="3.55"/><circle cx="364.2" cy="85.1" r="3.55"/><circle cx="367.4" cy="86.4" r="3.55"/><circle cx="370.6" cy="86.1" r="3.55"/><circle cx="373.8" cy="86.1" r="3.55"/><circle cx="377.0" cy="85.6" r="3.55"/><circle cx="380.2" cy="86.4" r="3.55"/><circle cx="383.4" cy="85.9" r="3.55"/><circle cx="386.5" cy="86.7" r="3.55"/><circle cx="389.7" cy="86.0" r="3.55"/><circle cx="392.9" cy="86.3" r="3.55"/><circle cx="396.1" cy="87.2" r="3.55"/><circle cx="399.3" cy="87.1" r="3.55"/><circle cx="402.5" cy="88.1" r="3.55"/><circle cx="405.7" cy="88.4" r="3.55"/><circle cx="408.9" cy="88.3" r="3.55"/><circle cx="412.1" cy="89.4" r="3.55"/><circle cx="415.3" cy="89.8" r="3.55"/><circle cx="418.4" cy="90.8" r="3.55"/><circle cx="421.6" cy="90.9" r="3.55"/><circle cx="424.8" cy="91.7" r="3.55"/><circle cx="428.0" cy="93.1" r="3.55"/><circle cx="431.2" cy="94.4" r="3.55"/><circle cx="434.4" cy="96.1" r="3.55"/><circle cx="437.6" cy="98.0" r="3.55"/><circle cx="440.8" cy="100.2" r="3.55"/><circle cx="444.0" cy="102.2" r="3.55"/><circle cx="447.2" cy="103.9" r="3.55"/><circle cx="450.3" cy="106.0" r="3.55"/><circle cx="453.5" cy="108.6" r="3.55"/><circle cx="456.7" cy="111.9" r="3.55"/><circle cx="459.9" cy="115.4" r="3.55"/><circle cx="463.1" cy="119.3" r="3.55"/><circle cx="466.3" cy="123.3" r="3.55"/><circle cx="469.5" cy="127.3" r="3.55"/><circle cx="472.7" cy="131.7" r="3.55"/><circle cx="475.9" cy="136.8" r="3.55"/><circle cx="479.1" cy="143.1" r="3.55"/><circle cx="482.2" cy="150.9" r="3.55"/><circle cx="485.4" cy="157.0" r="3.55"/><circle cx="488.6" cy="163.6" r="3.55"/><circle cx="491.8" cy="172.8" r="3.55"/><circle cx="495.0" cy="180.9" r="3.55"/><circle cx="498.2" cy="188.6" r="3.55"/><circle cx="501.4" cy="198.8" r="3.55"/><circle cx="504.6" cy="209.7" r="3.55"/><circle cx="507.8" cy="220.2" r="3.55"/><circle cx="511.0" cy="228.7" r="3.55"/><circle cx="514.1" cy="245.4" r="3.55"/><circle cx="517.3" cy="257.3" r="3.55"/><circle cx="520.5" cy="270.3" r="3.55"/><circle cx="523.7" cy="284.2" r="3.55"/><circle cx="526.9" cy="302.2" r="3.55"/><circle cx="530.1" cy="318.0" r="3.55"/><circle cx="533.3" cy="335.9" r="3.55"/><circle cx="536.5" cy="356.9" r="3.55"/></g>
<g fill="#fdeef0" stroke="#e8707c" stroke-width="1.0" stroke-opacity="0.8"><circle cx="83.5" cy="123.2" r="3.3"/><circle cx="86.7" cy="123.7" r="3.3"/><circle cx="89.9" cy="122.9" r="3.3"/><circle cx="93.1" cy="122.9" r="3.3"/><circle cx="96.3" cy="123.4" r="3.3"/><circle cx="99.4" cy="123.2" r="3.3"/><circle cx="102.6" cy="123.2" r="3.3"/><circle cx="105.8" cy="122.8" r="3.3"/><circle cx="109.0" cy="123.7" r="3.3"/><circle cx="112.2" cy="123.6" r="3.3"/><circle cx="115.4" cy="123.2" r="3.3"/><circle cx="118.6" cy="123.2" r="3.3"/><circle cx="121.8" cy="122.3" r="3.3"/><circle cx="125.0" cy="123.2" r="3.3"/><circle cx="128.2" cy="122.9" r="3.3"/><circle cx="131.3" cy="123.2" r="3.3"/><circle cx="134.5" cy="123.2" r="3.3"/><circle cx="137.7" cy="122.9" r="3.3"/><circle cx="140.9" cy="122.4" r="3.3"/><circle cx="144.1" cy="123.1" r="3.3"/><circle cx="147.3" cy="122.7" r="3.3"/><circle cx="150.5" cy="122.9" r="3.3"/><circle cx="153.7" cy="122.8" r="3.3"/><circle cx="156.9" cy="122.9" r="3.3"/><circle cx="160.1" cy="122.2" r="3.3"/><circle cx="163.2" cy="123.4" r="3.3"/><circle cx="166.4" cy="123.1" r="3.3"/><circle cx="169.6" cy="123.4" r="3.3"/><circle cx="172.8" cy="123.7" r="3.3"/><circle cx="176.0" cy="123.0" r="3.3"/><circle cx="179.2" cy="122.4" r="3.3"/><circle cx="182.4" cy="122.7" r="3.3"/><circle cx="185.6" cy="122.6" r="3.3"/><circle cx="188.8" cy="122.8" r="3.3"/><circle cx="192.0" cy="123.0" r="3.3"/><circle cx="195.1" cy="122.3" r="3.3"/><circle cx="198.3" cy="123.1" r="3.3"/><circle cx="201.5" cy="122.5" r="3.3"/><circle cx="204.7" cy="123.1" r="3.3"/><circle cx="207.9" cy="123.0" r="3.3"/><circle cx="211.1" cy="122.9" r="3.3"/><circle cx="214.3" cy="123.0" r="3.3"/><circle cx="217.5" cy="122.8" r="3.3"/><circle cx="220.7" cy="122.8" r="3.3"/><circle cx="223.9" cy="122.4" r="3.3"/><circle cx="227.0" cy="123.0" r="3.3"/><circle cx="230.2" cy="123.6" r="3.3"/><circle cx="233.4" cy="123.6" r="3.3"/><circle cx="236.6" cy="123.4" r="3.3"/><circle cx="239.8" cy="123.2" r="3.3"/><circle cx="243.0" cy="122.7" r="3.3"/><circle cx="246.2" cy="123.4" r="3.3"/><circle cx="249.4" cy="122.9" r="3.3"/><circle cx="252.6" cy="122.9" r="3.3"/><circle cx="255.8" cy="122.8" r="3.3"/><circle cx="258.9" cy="122.9" r="3.3"/><circle cx="262.1" cy="122.7" r="3.3"/><circle cx="265.3" cy="122.8" r="3.3"/><circle cx="268.5" cy="122.5" r="3.3"/><circle cx="271.7" cy="122.7" r="3.3"/><circle cx="274.9" cy="123.6" r="3.3"/><circle cx="278.1" cy="122.8" r="3.3"/><circle cx="281.3" cy="122.7" r="3.3"/><circle cx="284.5" cy="123.0" r="3.3"/><circle cx="287.7" cy="123.1" r="3.3"/><circle cx="290.8" cy="122.4" r="3.3"/><circle cx="294.0" cy="122.7" r="3.3"/><circle cx="297.2" cy="123.1" r="3.3"/><circle cx="300.4" cy="122.9" r="3.3"/><circle cx="303.6" cy="122.8" r="3.3"/><circle cx="306.8" cy="123.3" r="3.3"/><circle cx="310.0" cy="122.6" r="3.3"/><circle cx="313.2" cy="122.8" r="3.3"/><circle cx="316.4" cy="122.6" r="3.3"/><circle cx="319.6" cy="123.3" r="3.3"/><circle cx="322.7" cy="122.1" r="3.3"/><circle cx="325.9" cy="122.6" r="3.3"/><circle cx="329.1" cy="122.6" r="3.3"/><circle cx="332.3" cy="123.1" r="3.3"/><circle cx="335.5" cy="123.0" r="3.3"/><circle cx="338.7" cy="123.3" r="3.3"/><circle cx="341.9" cy="122.3" r="3.3"/><circle cx="345.1" cy="123.1" r="3.3"/><circle cx="348.3" cy="122.8" r="3.3"/><circle cx="351.5" cy="122.6" r="3.3"/><circle cx="354.6" cy="123.1" r="3.3"/><circle cx="357.8" cy="122.6" r="3.3"/><circle cx="361.0" cy="122.2" r="3.3"/><circle cx="364.2" cy="122.8" r="3.3"/><circle cx="367.4" cy="122.4" r="3.3"/><circle cx="370.6" cy="122.7" r="3.3"/><circle cx="373.8" cy="123.1" r="3.3"/><circle cx="377.0" cy="123.1" r="3.3"/><circle cx="380.2" cy="123.6" r="3.3"/><circle cx="383.4" cy="123.0" r="3.3"/><circle cx="386.5" cy="122.6" r="3.3"/><circle cx="389.7" cy="123.0" r="3.3"/><circle cx="392.9" cy="123.1" r="3.3"/><circle cx="396.1" cy="123.2" r="3.3"/><circle cx="399.3" cy="123.9" r="3.3"/><circle cx="402.5" cy="123.7" r="3.3"/><circle cx="405.7" cy="123.5" r="3.3"/><circle cx="408.9" cy="124.7" r="3.3"/><circle cx="412.1" cy="124.7" r="3.3"/><circle cx="415.3" cy="125.2" r="3.3"/><circle cx="418.4" cy="125.6" r="3.3"/><circle cx="421.6" cy="126.2" r="3.3"/><circle cx="424.8" cy="126.9" r="3.3"/><circle cx="428.0" cy="128.1" r="3.3"/><circle cx="431.2" cy="129.0" r="3.3"/><circle cx="434.4" cy="130.4" r="3.3"/><circle cx="437.6" cy="132.0" r="3.3"/><circle cx="440.8" cy="133.5" r="3.3"/><circle cx="444.0" cy="135.4" r="3.3"/><circle cx="447.2" cy="137.4" r="3.3"/><circle cx="450.3" cy="139.6" r="3.3"/><circle cx="453.5" cy="141.9" r="3.3"/><circle cx="456.7" cy="144.5" r="3.3"/><circle cx="459.9" cy="147.4" r="3.3"/><circle cx="463.1" cy="150.4" r="3.3"/><circle cx="466.3" cy="153.7" r="3.3"/><circle cx="469.5" cy="157.2" r="3.3"/><circle cx="472.7" cy="161.0" r="3.3"/><circle cx="475.9" cy="165.3" r="3.3"/><circle cx="479.1" cy="170.3" r="3.3"/><circle cx="482.2" cy="176.3" r="3.3"/><circle cx="485.4" cy="183.4" r="3.3"/><circle cx="488.6" cy="190.7" r="3.3"/><circle cx="491.8" cy="198.1" r="3.3"/><circle cx="495.0" cy="205.5" r="3.3"/><circle cx="498.2" cy="214.6" r="3.3"/><circle cx="501.4" cy="226.1" r="3.3"/><circle cx="504.6" cy="235.4" r="3.3"/><circle cx="507.8" cy="245.0" r="3.3"/><circle cx="511.0" cy="255.8" r="3.3"/><circle cx="514.1" cy="267.3" r="3.3"/><circle cx="517.3" cy="279.2" r="3.3"/><circle cx="520.5" cy="291.8" r="3.3"/><circle cx="523.7" cy="304.5" r="3.3"/><circle cx="526.9" cy="318.1" r="3.3"/><circle cx="530.1" cy="337.1" r="3.3"/><circle cx="533.3" cy="355.4" r="3.3"/><circle cx="536.5" cy="371.9" r="3.3"/></g>
</g>
<g fill="#000"><circle cx="775.5" cy="92.8" r="3.2"/><circle cx="782.8" cy="93.6" r="3.2"/><circle cx="790.1" cy="94.2" r="3.2"/><circle cx="797.3" cy="95.1" r="3.2"/><circle cx="804.6" cy="96.0" r="3.2"/><circle cx="811.9" cy="97.0" r="3.2"/><circle cx="819.2" cy="97.9" r="3.2"/><circle cx="826.5" cy="98.8" r="3.2"/><circle cx="833.7" cy="99.5" r="3.2"/><circle cx="841.0" cy="100.6" r="3.2"/><circle cx="848.3" cy="101.4" r="3.2"/><circle cx="855.6" cy="102.6" r="3.2"/><circle cx="862.9" cy="103.6" r="3.2"/><circle cx="870.1" cy="104.7" r="3.2"/><circle cx="877.4" cy="105.9" r="3.2"/><circle cx="884.7" cy="107.0" r="3.2"/><circle cx="892.0" cy="108.4" r="3.2"/><circle cx="899.3" cy="109.7" r="3.2"/><circle cx="906.5" cy="111.1" r="3.2"/><circle cx="913.8" cy="112.4" r="3.2"/><circle cx="921.1" cy="113.9" r="3.2"/><circle cx="928.4" cy="115.2" r="3.2"/><circle cx="935.7" cy="116.8" r="3.2"/><circle cx="942.9" cy="118.4" r="3.2"/><circle cx="950.2" cy="120.1" r="3.2"/><circle cx="957.5" cy="121.8" r="3.2"/><circle cx="964.8" cy="123.5" r="3.2"/><circle cx="972.1" cy="125.4" r="3.2"/><circle cx="979.3" cy="127.4" r="3.2"/><circle cx="986.6" cy="129.4" r="3.2"/><circle cx="993.9" cy="131.6" r="3.2"/><circle cx="1001.2" cy="134.3" r="3.2"/><circle cx="1008.5" cy="136.8" r="3.2"/><circle cx="1015.7" cy="139.5" r="3.2"/><circle cx="1023.0" cy="142.2" r="3.2"/><circle cx="1030.3" cy="144.8" r="3.2"/><circle cx="1037.6" cy="147.6" r="3.2"/><circle cx="1044.9" cy="151.1" r="3.2"/><circle cx="1052.1" cy="154.7" r="3.2"/><circle cx="1059.4" cy="158.2" r="3.2"/><circle cx="1066.7" cy="162.5" r="3.2"/><circle cx="1074.0" cy="166.9" r="3.2"/><circle cx="1081.3" cy="171.5" r="3.2"/><circle cx="1088.5" cy="176.6" r="3.2"/><circle cx="1095.8" cy="183.3" r="3.2"/><circle cx="1103.1" cy="191.9" r="3.2"/><circle cx="1110.4" cy="195.7" r="3.2"/><circle cx="1117.7" cy="203.0" r="3.2"/><circle cx="1124.9" cy="210.7" r="3.2"/><circle cx="1132.2" cy="218.7" r="3.2"/><circle cx="1139.5" cy="227.6" r="3.2"/><circle cx="1146.8" cy="237.8" r="3.2"/><circle cx="1154.1" cy="249.2" r="3.2"/><circle cx="1161.3" cy="260.3" r="3.2"/><circle cx="1168.6" cy="273.3" r="3.2"/><circle cx="1175.9" cy="286.4" r="3.2"/><circle cx="1183.2" cy="301.4" r="3.2"/><circle cx="1190.5" cy="317.4" r="3.2"/><circle cx="1197.7" cy="334.8" r="3.2"/><circle cx="1205.0" cy="352.9" r="3.2"/><circle cx="1212.3" cy="373.5" r="3.2"/><circle cx="1219.6" cy="395.5" r="3.2"/><circle cx="1226.9" cy="421.4" r="3.2"/></g>
<g fill="#f00"><circle cx="775.5" cy="75.3" r="3.2"/><circle cx="782.8" cy="75.3" r="3.2"/><circle cx="790.1" cy="75.3" r="3.2"/><circle cx="797.3" cy="75.3" r="3.2"/><circle cx="804.6" cy="75.3" r="3.2"/><circle cx="811.9" cy="75.4" r="3.2"/><circle cx="819.2" cy="75.4" r="3.2"/><circle cx="826.5" cy="75.4" r="3.2"/><circle cx="833.7" cy="75.4" r="3.2"/><circle cx="841.0" cy="75.5" r="3.2"/><circle cx="848.3" cy="75.5" r="3.2"/><circle cx="855.6" cy="75.5" r="3.2"/><circle cx="862.9" cy="75.6" r="3.2"/><circle cx="870.1" cy="75.7" r="3.2"/><circle cx="877.4" cy="75.8" r="3.2"/><circle cx="884.7" cy="75.9" r="3.2"/><circle cx="892.0" cy="76.0" r="3.2"/><circle cx="899.3" cy="76.1" r="3.2"/><circle cx="906.5" cy="76.3" r="3.2"/><circle cx="913.8" cy="76.7" r="3.2"/><circle cx="921.1" cy="76.9" r="3.2"/><circle cx="928.4" cy="77.1" r="3.2"/><circle cx="935.7" cy="77.3" r="3.2"/><circle cx="942.9" cy="77.4" r="3.2"/><circle cx="950.2" cy="77.6" r="3.2"/><circle cx="957.5" cy="77.8" r="3.2"/><circle cx="964.8" cy="77.9" r="3.2"/><circle cx="972.1" cy="78.1" r="3.2"/><circle cx="979.3" cy="78.3" r="3.2"/><circle cx="986.6" cy="78.7" r="3.2"/><circle cx="993.9" cy="79.5" r="3.2"/><circle cx="1001.2" cy="80.6" r="3.2"/><circle cx="1008.5" cy="81.6" r="3.2"/><circle cx="1015.7" cy="82.6" r="3.2"/><circle cx="1023.0" cy="83.6" r="3.2"/><circle cx="1030.3" cy="84.8" r="3.2"/><circle cx="1037.6" cy="86.2" r="3.2"/><circle cx="1044.9" cy="87.8" r="3.2"/><circle cx="1052.1" cy="89.5" r="3.2"/><circle cx="1059.4" cy="91.4" r="3.2"/><circle cx="1066.7" cy="93.7" r="3.2"/><circle cx="1074.0" cy="96.3" r="3.2"/><circle cx="1081.3" cy="99.1" r="3.2"/><circle cx="1088.5" cy="102.1" r="3.2"/><circle cx="1095.8" cy="105.9" r="3.2"/><circle cx="1103.1" cy="110.2" r="3.2"/><circle cx="1110.4" cy="114.5" r="3.2"/><circle cx="1117.7" cy="119.1" r="3.2"/><circle cx="1124.9" cy="124.4" r="3.2"/><circle cx="1132.2" cy="130.4" r="3.2"/><circle cx="1139.5" cy="137.3" r="3.2"/><circle cx="1146.8" cy="145.0" r="3.2"/><circle cx="1154.1" cy="151.3" r="3.2"/><circle cx="1161.3" cy="159.2" r="3.2"/><circle cx="1168.6" cy="169.1" r="3.2"/><circle cx="1175.9" cy="193.6" r="3.2"/><circle cx="1183.2" cy="190.5" r="3.2"/><circle cx="1190.5" cy="203.0" r="3.2"/><circle cx="1197.7" cy="217.2" r="3.2"/><circle cx="1205.0" cy="233.4" r="3.2"/><circle cx="1212.3" cy="250.4" r="3.2"/><circle cx="1219.6" cy="270.5" r="3.2"/><circle cx="1226.9" cy="292.6" r="3.2"/><circle cx="1234.1" cy="315.1" r="3.2"/><circle cx="1241.4" cy="339.6" r="3.2"/><circle cx="1248.7" cy="369.8" r="3.2"/><circle cx="1256.0" cy="400.6" r="3.2"/><circle cx="1263.3" cy="436.1" r="3.2"/><circle cx="1270.5" cy="473.6" r="3.2"/></g>
<g fill="#fff" stroke="#e8606e" stroke-width="1.3" stroke-opacity="0.8"><circle cx="775.5" cy="75.3" r="2.95"/><circle cx="782.8" cy="75.3" r="2.95"/><circle cx="790.1" cy="75.3" r="2.95"/><circle cx="797.3" cy="75.3" r="2.95"/><circle cx="804.6" cy="75.3" r="2.95"/><circle cx="811.9" cy="75.4" r="2.95"/><circle cx="819.2" cy="75.4" r="2.95"/><circle cx="826.5" cy="75.4" r="2.95"/><circle cx="833.7" cy="75.4" r="2.95"/><circle cx="841.0" cy="75.5" r="2.95"/><circle cx="848.3" cy="75.5" r="2.95"/><circle cx="855.6" cy="75.5" r="2.95"/><circle cx="862.9" cy="75.6" r="2.95"/><circle cx="870.1" cy="75.7" r="2.95"/><circle cx="877.4" cy="75.8" r="2.95"/><circle cx="884.7" cy="75.9" r="2.95"/><circle cx="892.0" cy="76.0" r="2.95"/><circle cx="899.3" cy="76.1" r="2.95"/><circle cx="906.5" cy="76.3" r="2.95"/><circle cx="913.8" cy="76.7" r="2.95"/><circle cx="921.1" cy="76.9" r="2.95"/><circle cx="928.4" cy="77.1" r="2.95"/><circle cx="935.7" cy="77.3" r="2.95"/><circle cx="942.9" cy="77.4" r="2.95"/><circle cx="950.2" cy="77.6" r="2.95"/><circle cx="957.5" cy="77.8" r="2.95"/><circle cx="964.8" cy="77.9" r="2.95"/><circle cx="972.1" cy="78.1" r="2.95"/><circle cx="979.3" cy="78.3" r="2.95"/><circle cx="986.6" cy="78.7" r="2.95"/><circle cx="993.9" cy="79.5" r="2.95"/><circle cx="1001.2" cy="80.4" r="2.95"/><circle cx="1008.5" cy="81.2" r="2.95"/><circle cx="1015.7" cy="82.2" r="2.95"/><circle cx="1023.0" cy="83.1" r="2.95"/><circle cx="1030.3" cy="84.2" r="2.95"/><circle cx="1037.6" cy="85.9" r="2.95"/><circle cx="1044.9" cy="87.2" r="2.95"/><circle cx="1052.1" cy="88.4" r="2.95"/><circle cx="1059.4" cy="89.9" r="2.95"/><circle cx="1066.7" cy="91.8" r="2.95"/><circle cx="1074.0" cy="94.1" r="2.95"/><circle cx="1081.3" cy="96.7" r="2.95"/><circle cx="1088.5" cy="99.6" r="2.95"/><circle cx="1095.8" cy="102.9" r="2.95"/><circle cx="1103.1" cy="106.7" r="2.95"/><circle cx="1110.4" cy="111.2" r="2.95"/><circle cx="1117.7" cy="115.8" r="2.95"/><circle cx="1124.9" cy="121.0" r="2.95"/><circle cx="1132.2" cy="126.4" r="2.95"/><circle cx="1139.5" cy="132.8" r="2.95"/><circle cx="1146.8" cy="139.5" r="2.95"/><circle cx="1154.1" cy="147.1" r="2.95"/><circle cx="1161.3" cy="155.3" r="2.95"/><circle cx="1168.6" cy="164.7" r="2.95"/><circle cx="1175.9" cy="175.5" r="2.95"/><circle cx="1183.2" cy="191.8" r="2.95"/><circle cx="1190.5" cy="198.0" r="2.95"/><circle cx="1197.7" cy="211.0" r="2.95"/><circle cx="1205.0" cy="226.0" r="2.95"/><circle cx="1212.3" cy="241.4" r="2.95"/><circle cx="1219.6" cy="259.8" r="2.95"/><circle cx="1226.9" cy="281.2" r="2.95"/><circle cx="1234.1" cy="302.7" r="2.95"/><circle cx="1241.4" cy="326.3" r="2.95"/><circle cx="1248.7" cy="353.4" r="2.95"/><circle cx="1256.0" cy="381.2" r="2.95"/><circle cx="1263.3" cy="415.5" r="2.95"/><circle cx="1270.5" cy="450.7" r="2.95"/></g>
</g>
<use href="#c" filter="url(#bl)" opacity="0.5"/>
</svg></div>
</body></html>
